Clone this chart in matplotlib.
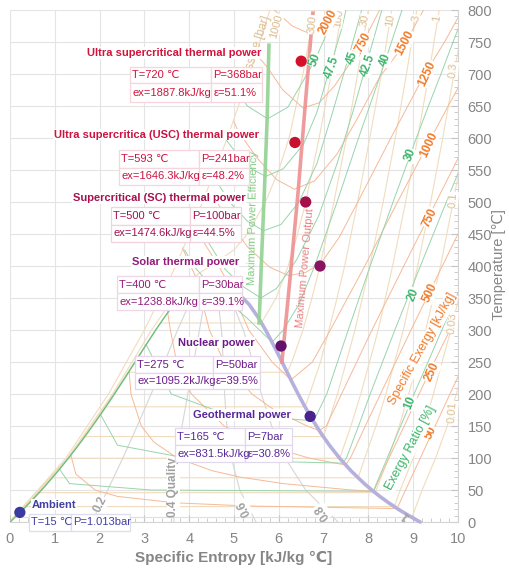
import matplotlib
matplotlib.use("Agg")
import numpy as np
import matplotlib.pyplot as plt
from matplotlib.colors import to_rgb
from matplotlib.patches import Rectangle

plt.rcParams["font.family"] = ["Liberation Sans Narrow", "Liberation Sans", "DejaVu Sans"]

# ---- water saturation dome, (s [kJ/kg K], T [C]) ----
sat_liquid = [(0.0, 0.01), (0.151, 10), (0.297, 20), (0.437, 30), (0.572, 40), (0.704, 50),
              (0.831, 60), (1.076, 80), (1.307, 100), (1.528, 120), (1.739, 140), (1.943, 160),
              (2.140, 180), (2.331, 200), (2.518, 220), (2.702, 240), (2.884, 260), (3.067, 280),
              (3.253, 300), (3.448, 320), (3.659, 340), (3.915, 360), (4.407, 374)]
sat_vapour = [(4.407, 374), (5.053, 360), (5.336, 340), (5.537, 320), (5.705, 300), (5.856, 280),
              (6.001, 260), (6.143, 240), (6.285, 220), (6.431, 200), (6.585, 180), (6.750, 160),
              (6.929, 140), (7.129, 120), (7.354, 100), (7.611, 80), (7.908, 60), (8.075, 50),
              (8.255, 40), (8.452, 30), (8.666, 20), (8.900, 10), (9.156, 0.01)]

# ---- isobars [bar] ----
isobar_1000 = [(0.0, 0.5), (1.25, 100), (2.2, 200), (3.0, 300), (3.7, 400), (4.3, 500),
               (4.85, 600), (5.35, 700), (5.8, 800)]
isobar_300 = [(0.0, 0.5), (1.29, 100), (2.29, 200), (3.16, 300), (3.65, 350), (3.93, 375),
              (4.47, 400), (5.0, 425), (5.3, 450), (5.7, 500), (6.0, 550), (6.23, 600),
              (6.54, 700), (6.80, 800)]
isobar_100 = [(0.0, 0.5), (1.30, 100), (2.31, 200), (3.25, 300), (3.36, 311), (5.61, 311),
              (5.94, 350), (6.21, 400), (6.42, 450), (6.60, 500), (6.90, 600), (7.17, 700),
              (7.41, 800)]
isobar_30 = [(0.0, 0.5), (1.30, 100), (2.33, 200), (2.645, 234), (6.186, 234), (6.29, 250),
             (6.54, 300), (6.74, 350), (6.92, 400), (7.23, 500), (7.51, 600), (7.76, 700),
             (8.0, 800)]
isobar_10 = [(0.0, 0.5), (1.307, 100), (2.138, 180), (6.585, 180), (6.69, 200), (6.93, 250),
             (7.12, 300), (7.30, 350), (7.47, 400), (7.76, 500), (8.03, 600), (8.29, 700),
             (8.52, 800)]
isobar_3 = [(0.0, 0.5), (1.307, 100), (1.672, 133.5), (6.99, 133.5), (7.08, 150), (7.31, 200),
            (7.70, 300), (8.03, 400), (8.33, 500), (8.60, 600), (8.85, 700), (9.08, 800)]
isobar_1 = [(0.0, 0.5), (0.704, 50), (1.303, 99.6), (7.36, 99.6), (7.61, 150), (7.83, 200),
            (8.22, 300), (8.54, 400), (8.83, 500), (9.10, 600), (9.35, 700), (9.58, 800)]
isobar_03 = [(0.0, 0.5), (0.704, 50), (0.944, 69.1), (7.77, 69.1), (7.92, 100), (8.17, 150),
             (8.39, 200), (8.78, 300), (9.10, 400), (9.39, 500), (9.66, 600), (9.91, 700),
             (10.0, 735)]
isobar_01 = [(0.0, 0.5), (0.649, 45.8), (8.15, 45.8), (8.45, 100), (8.69, 150), (8.90, 200),
             (9.28, 300), (9.61, 400), (9.89, 500), (10.0, 540)]
isobar_003 = [(0.0, 0.5), (0.35, 24.1), (8.58, 24.1), (8.71, 50), (9.0, 100), (9.25, 150),
              (9.45, 200), (9.84, 300), (10.0, 345)]
isobar_001 = [(0.0, 0.5), (0.106, 7.0), (8.97, 7.0), (9.2, 50), (9.50, 100), (9.76, 150),
              (9.96, 200), (10.0, 210)]
isobar_names = ["1000", "300", "100", "30", "10", "3", "1", "0.3", "0.1", "0.03", "0.01"]

# ---- specific exergy isolines [kJ/kg], bounded on the left by the 1000 bar isobar ----
exergy_2000 = [(5.9, 800), (6.3, 775), (6.72, 762), (7.1, 780), (7.3, 800)]
exergy_1750 = [(5.5, 730), (5.74, 711), (6.09, 675), (6.54, 647), (6.9, 655), (7.25, 682),
               (7.59, 717), (7.9, 752), (8.25, 800)]
exergy_1500 = [(5.0, 625), (5.1, 610), (5.5, 570), (5.95, 535), (6.35, 520), (6.8, 533),
               (7.3, 575), (7.75, 630), (8.25, 695), (8.82, 748), (9.23, 800)]
exergy_1250 = [(4.5, 515), (4.8, 478), (5.3, 430), (5.8, 398), (6.22, 385), (6.6, 390),
               (6.95, 405), (7.35, 445), (7.8, 505), (8.5, 600), (9.26, 700), (9.7, 750),
               (10.0, 788)]
exergy_1000 = [(4.1, 468), (4.3, 440), (4.7, 395), (4.93, 365), (5.02, 350), (5.33, 300),
               (5.85, 250), (6.27, 222), (6.75, 250), (7.15, 300), (7.92, 400), (8.65, 500),
               (9.40, 600), (9.78, 650), (10.0, 678)]
exergy_750 = [(3.85, 428), (4.0, 405), (4.22, 372), (4.27, 350), (4.45, 300), (4.78, 250),
              (5.40, 200), (5.90, 175), (6.63, 150), (6.90, 143), (7.06, 150), (7.40, 200),
              (8.08, 300), (8.79, 400), (9.51, 500), (10.0, 568)]
exergy_500 = [(3.42, 365), (3.52, 327), (3.58, 300), (3.72, 250), (4.05, 200), (4.78, 150),
              (5.48, 125), (6.67, 100), (7.49, 89), (7.60, 100), (7.93, 150), (8.27, 200),
              (8.95, 300), (9.65, 400), (10.0, 450)]
exergy_250 = [(2.66, 235), (2.70, 200), (2.93, 150), (3.21, 125), (3.73, 100), (4.52, 80),
              (5.15, 70), (6.10, 60), (7.62, 50), (8.12, 48), (8.13, 50), (8.46, 100),
              (8.80, 150), (9.13, 200), (9.47, 250), (9.82, 300), (10.0, 326)]
exergy_50 = [(1.36, 104), (1.47, 75), (1.90, 50), (2.40, 40), (3.68, 30), (5.32, 25),
             (8.64, 21), (8.83, 50), (9.16, 100), (9.49, 150), (9.82, 200), (10.0, 227)]
exergy_names = ["2000", "1750", "1500", "1250", "1000", "750", "500", "250", "50"]

# ---- exergy ratio isolines [%] ----
ratio_50 = [(5.2, 660), (5.3, 650), (5.75, 630), (6.2, 648), (6.55, 690), (6.81, 722),
            (7.05, 760), (7.3, 800)]
ratio_475 = [(4.8, 600), (4.9, 590), (5.3, 555), (5.71, 540), (6.1, 552), (6.55, 590),
             (6.85, 640), (7.14, 709), (7.4, 770), (7.5, 800)]
ratio_45 = [(4.5, 545), (4.9, 500), (5.3, 470), (5.66, 455), (6.05, 465), (6.45, 500),
            (6.85, 560), (7.2, 640), (7.54, 722), (7.85, 800)]
ratio_425 = [(4.2, 468), (4.4, 440), (4.8, 395), (5.2, 368), (5.6, 350), (5.95, 365),
             (6.4, 410), (6.9, 480), (7.3, 560), (7.65, 640), (7.97, 719), (8.3, 800)]
ratio_40 = [(3.9, 425), (4.1, 400), (4.45, 372), (4.8, 348), (5.3, 318), (5.85, 281),
            (6.1, 300), (6.45, 340), (6.8, 400), (7.3, 500), (7.78, 600), (8.37, 719),
            (8.75, 800)]
ratio_30 = [(3.04, 277), (3.60, 200), (4.57, 175), (5.55, 165), (6.78, 158), (7.07, 200),
            (7.55, 300), (8.04, 400), (8.55, 500), (9.07, 600), (9.34, 650), (9.62, 700),
            (9.89, 750), (10.0, 770)]
ratio_20 = [(2.02, 168), (2.40, 120), (3.92, 100), (5.55, 95), (7.43, 92), (7.51, 100),
            (7.78, 150), (8.04, 200), (8.59, 300), (9.16, 400), (9.74, 500), (10.0, 545)]
ratio_10 = [(1.1, 83), (1.33, 60), (3.15, 50), (8.1, 48), (8.12, 50), (8.42, 100),
            (8.72, 150), (9.02, 200), (9.33, 250), (9.64, 300), (9.95, 350), (10.0, 358)]
ratio_names = ["50", "47.5", "45", "42.5", "40", "30", "20", "10"]

# ---- vapour quality ----
quality_02 = [(1.83, 0), (2.18, 50), (2.52, 100), (2.84, 150), (3.15, 200), (3.45, 250),
              (3.74, 300), (4.06, 350), (4.41, 374)]
quality_04 = [(3.66, 0), (3.65, 50), (3.73, 100), (3.84, 150), (3.97, 200), (4.10, 250),
              (4.23, 300), (4.35, 350), (4.41, 374)]
quality_06 = [(5.49, 0), (5.13, 50), (4.94, 100), (4.84, 150), (4.79, 200), (4.76, 250),
              (4.72, 300), (4.64, 350), (4.41, 374)]
quality_08 = [(7.32, 0), (6.60, 50), (6.14, 100), (5.84, 150), (5.61, 200), (5.42, 250),
              (5.21, 300), (4.92, 350), (4.41, 374)]

# ---- optimum loci ----
max_efficiency_line = [(5.56, 311), (5.62, 420), (5.68, 520), (5.74, 630), (5.78, 745)]
max_output_line = [(6.07, 250), (6.25, 380), (6.43, 515), (6.60, 660), (6.76, 795)]

# ---- power plants ----
plant_names = ["Ultra supercritical thermal power", "Ultra supercritica (USC) thermal power",
               "Supercritical (SC) thermal power", "Solar thermal power", "Nuclear power",
               "Geothermal power", "Ambient"]
plant_s = [6.50, 6.36, 6.60, 6.92, 6.05, 6.70, 0.22]
plant_T = [720, 593, 500, 400, 275, 165, 15]
plant_P = ["368", "241", "100", "30", "50", "7", "1.013"]
plant_ex = [1887.8, 1646.3, 1474.6, 1238.8, 1095.2, 831.5, None]
plant_eff = [51.1, 48.2, 44.5, 39.1, 39.5, 30.8, None]

# ---- styling / layout ----
C_ISOBAR, C_ISOBAR_TXT = "#f1dcbe", "#dcbd90"
C_EXERGY, C_EXERGY_TXT = "#f6b996", "#f07a28"
C_RATIO, C_RATIO_TXT = "#98d4ad", "#3cb46a"
C_QUALITY = "#d6d6d6"
text_colors = ["#d2143c", "#cc1442", "#a5124e", "#941a7c", "#6c1a8a", "#58289a", "#4040a2"]
dot_colors = ["#d4102c", "#c81030", "#a3104a", "#8a1462", "#62126c", "#4a2290", "#3a3aa0"]

isobar_label_pos = [(5.94, 775, 75), (6.74, 777, 85), (7.32, 787, 82), (7.92, 784, 80),
                    (8.48, 784, 80), (9.06, 787, 80), (9.53, 787, 80), (9.89, 706, 86),
                    (9.89, 503, 86), (9.88, 311, 86), (9.88, 172, 86)]
exergy_label_pos = [(7.10, 781, 62), (7.86, 745, 62), (8.82, 748, 62), (9.31, 701, 65),
                    (9.35, 589, 65), (9.38, 475, 65), (9.38, 358, 65), (9.42, 234, 65),
                    (9.40, 139, 65)]
ratio_label_pos = [(6.81, 722, 70), (7.19, 711, 70), (7.63, 725, 70), (7.99, 714, 70),
                   (8.37, 722, 70), (8.93, 573, 68), (9.0, 355, 68), (8.93, 186, 68)]

# card geometry: x0, x_div, x1, y_top, y_mid, y_bottom ; title centre
card_boxes = [(2.68, 4.49, 5.63, 711, 686, 656), (2.43, 4.22, 5.33, 581, 553, 527),
              (2.25, 4.02, 5.16, 492, 464, 438), (2.39, 4.22, 5.18, 384, 358, 331),
              (2.79, 4.53, 5.58, 259, 233, 208), (3.68, 5.25, 6.29, 147, 120, 94),
              (0.42, 1.36, 2.68, 12.5, None, -14)]
title_pos = [(3.66, 733), (3.26, 605), (3.33, 506), (3.91, 406), (4.60, 280), (5.18, 167),
             (0.49, 27)]


def lighten(color, amount):
    r, g, b = to_rgb(color)
    return (1 - amount * (1 - r), 1 - amount * (1 - g), 1 - amount * (1 - b))


def draw(ax, pts, **kw):
    s, t = zip(*pts)
    ax.plot(s, t, **kw)


fig = plt.figure(figsize=(5.09, 5.70), dpi=100)
ax = fig.add_axes([10 / 509, 48 / 570, 448 / 509, 512 / 570])
ax.set_xlim(0, 10)
ax.set_ylim(0, 800)

# thin isolines
for pts in [isobar_1000, isobar_300, isobar_100, isobar_30, isobar_10, isobar_3, isobar_1,
            isobar_03, isobar_01, isobar_003, isobar_001]:
    draw(ax, pts, color=C_ISOBAR, lw=0.8, zorder=2)
for pts in [quality_02, quality_04, quality_06, quality_08]:
    draw(ax, pts, color=C_QUALITY, lw=0.8, zorder=2)
for pts in [exergy_2000, exergy_1750, exergy_1500, exergy_1250, exergy_1000, exergy_750,
            exergy_500, exergy_250, exergy_50]:
    draw(ax, pts, color=C_EXERGY, lw=0.7, zorder=2)
for pts in [ratio_50, ratio_475, ratio_45, ratio_425, ratio_40, ratio_30, ratio_20, ratio_10]:
    draw(ax, pts, color=C_RATIO, lw=0.7, zorder=2)

# dome and optimum loci
draw(ax, sat_liquid, color="#6cbf80", lw=1.0, zorder=3)
draw(ax, sat_vapour, color="#b6b1dc", lw=2.6, zorder=3, solid_capstyle="round", clip_on=False)
draw(ax, max_efficiency_line, color="#93d293", lw=2.6, alpha=0.9, zorder=3)
draw(ax, max_output_line, color="#ef9090", lw=2.6, alpha=0.9, zorder=3)

# inline labels
lbl_box = dict(facecolor="white", edgecolor="none", pad=0.3)
for name, (x, y, rot) in zip(isobar_names, isobar_label_pos):
    ax.text(x, y, name, color=C_ISOBAR_TXT, fontsize=8, rotation=rot, ha="center",
            va="center", bbox=lbl_box, zorder=4)
for name, (x, y, rot) in zip(exergy_names, exergy_label_pos):
    ax.text(x, y, name, color=C_EXERGY_TXT, fontsize=8.5, fontweight="bold", rotation=rot,
            ha="center", va="center", bbox=lbl_box, zorder=4)
for name, (x, y, rot) in zip(ratio_names, ratio_label_pos):
    ax.text(x, y, name, color=C_RATIO_TXT, fontsize=8.5, fontweight="bold", rotation=rot,
            ha="center", va="center", bbox=lbl_box, zorder=4)

ax.text(5.74, 790, "Pressure [bar]", color=C_ISOBAR_TXT, fontsize=8.5, rotation=72,
        rotation_mode="anchor", ha="right", va="center", zorder=4, clip_on=False)
ax.text(9.21, 270, "Specific Exergy [kJ/kg]", color=C_EXERGY_TXT, fontsize=9, rotation=61,
        ha="center", va="center", bbox=lbl_box, zorder=4)
ax.text(8.94, 115, "Exergy Ratio [%]", color=C_RATIO_TXT, fontsize=9, rotation=62,
        ha="center", va="center", bbox=lbl_box, zorder=4)
ax.text(5.42, 475, "Maximum Power Efficiency", color="#86cc86", fontsize=8, rotation=89,
        ha="center", va="center", zorder=4)
ax.text(6.60, 397, "Maximum Power Output", color="#ea8080", fontsize=8, rotation=85,
        ha="center", va="center", zorder=4)

# quality labels
q_color = "#a0a0a0"
ax.text(2.02, 27, "0.2", color=q_color, fontsize=8.5, fontweight="bold", rotation=64,
        ha="center", va="center", bbox=lbl_box, zorder=4)
ax.text(3.64, 8, "0.4 Quality", color=q_color, fontsize=8.5, fontweight="bold", rotation=90,
        rotation_mode="anchor", ha="left", va="center", bbox=lbl_box, zorder=4)
ax.text(5.22, 22, "0.6", color=q_color, fontsize=8.5, fontweight="bold", rotation=117,
        ha="center", va="center", bbox=lbl_box, zorder=4)
ax.text(6.98, 16, "0.8", color=q_color, fontsize=8.5, fontweight="bold", rotation=125,
        ha="center", va="center", bbox=lbl_box, zorder=4)
ax.text(8.84, 10, "1", color=q_color, fontsize=8.5, fontweight="bold", rotation=140,
        ha="center", va="center", zorder=4)

# plant cards
for i, name in enumerate(plant_names):
    color = text_colors[i]
    edge = lighten(color, 0.18)
    x0, xd, x1, top, mid, bot = card_boxes[i]
    cells = [[f"T={plant_T[i]} ℃", f"P={plant_P[i]}bar"]]
    rows = [(top, bot)]
    if plant_ex[i] is not None:
        cells.append([f"ex={plant_ex[i]:.1f}kJ/kg", f"ε={plant_eff[i]:.1f}%"])
        rows = [(top, mid), (mid, bot)]
    for (ya, yb), row_txt in zip(rows, cells):
        for (xa, xb), txt in zip([(x0, xd), (xd, x1)], row_txt):
            ax.add_patch(Rectangle((xa, yb), xb - xa, ya - yb, facecolor="white",
                                   edgecolor=edge, lw=0.9, zorder=5, clip_on=False))
            ax.text(xa + 0.05, (ya + yb) / 2, txt, color=color, fontsize=8, ha="left",
                    va="center", zorder=6, clip_on=False)
    tx, ty = title_pos[i]
    ax.text(tx, ty, name, color=color, fontsize=8, fontweight="bold",
            ha="left" if plant_ex[i] is None else "center", va="center",
            bbox=dict(facecolor="white", edgecolor="none", pad=0.5), zorder=6)

ax.scatter(plant_s, plant_T, s=66, c=dot_colors, zorder=7, clip_on=False, linewidths=0)

# axes styling
ax.set_xticks(range(11))
ax.set_xticks(np.arange(0, 10.01, 0.2), minor=True)
ax.set_yticks(range(0, 801, 50))
ax.set_yticks(range(0, 801, 10), minor=True)
ax.yaxis.tick_right()
ax.tick_params(which="both", direction="in", color="#c4c4c4", labelcolor="#858585",
               labelsize=10.5, pad=7)
ax.tick_params(which="major", length=5)
ax.tick_params(which="minor", length=3)
ax.grid(True, which="major", color="#e4e4e4", lw=0.8, zorder=0)
ax.set_axisbelow(True)
for side in ["top", "left"]:
    ax.spines[side].set_visible(False)
for side in ["bottom", "right"]:
    ax.spines[side].set_color("#d4d4d4")

fig.text(499 / 509, 1 - 265 / 570, "Temperature [℃]", rotation=90, ha="center", va="center",
         color="#858585", fontsize=10.5)
fig.text(234 / 509, 1 - 558 / 570, "Specific Entropy [kJ/kg ℃]", ha="center", va="center",
         color="#858585", fontsize=11, fontweight="bold")

fig.savefig("out.png", dpi=100)
